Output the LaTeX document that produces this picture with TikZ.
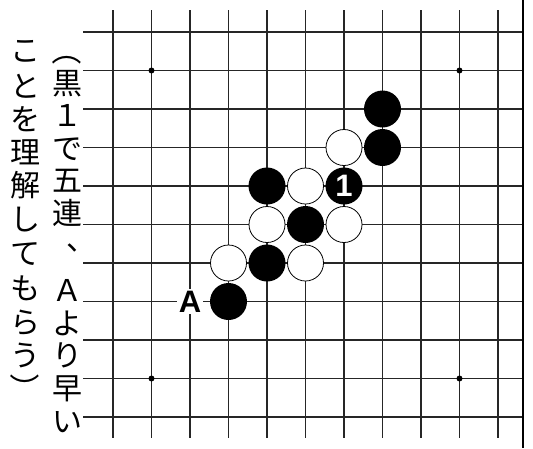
\documentclass[tikz,border=0pt]{standalone}
\usepackage{fontspec}
\newfontfamily\jpfont{Noto Sans CJK JP}
\newfontfamily\markfont{Liberation Sans}
\tikzset{
  gridline/.style={line width=1.3pt, black!85},
  blackstone/.style={circle, fill=black, minimum size=37pt, inner sep=0pt},
  whitestone/.style={circle, draw=black, line width=0.8pt, fill=white, minimum size=36pt, inner sep=0pt},
  starpoint/.style={circle, fill=black, minimum size=6pt, inner sep=0pt},
  vchar/.style={font=\jpfont\fontsize{30}{30}\selectfont, inner sep=0pt, text height=26.4pt, text depth=3.6pt},
  movelabel/.style={font=\markfont\bfseries\fontsize{31}{31}\selectfont, inner sep=0pt},
}

\begin{document}
\begin{tikzpicture}[x=1pt, y=-1pt]
  \useasboundingbox (0,0) rectangle (533,448);
  % board lines
  \foreach \i [evaluate=\i as \p using 113+38.5*\i] in {0,...,10} {
    \draw[gridline] (\p,10) -- (\p,438);
    \draw[gridline] (83,{32+38.5*\i}) -- (523,{32+38.5*\i});
  }
  \draw[line width=2.2pt] (523,0) -- (523,448);
  % star points
  \foreach \c/\r [count=\k] in {1/1,9/1,1/9,9/9}
    \node[starpoint] (star\k) at ({113+38.5*\c},{32+38.5*\r}) {};
  % stones
  \foreach \c/\r [count=\k] in {7/2,7/3,4/4,6/4,5/5,4/6,3/7}
    \node[blackstone] (b\k) at ({113+38.5*\c},{32+38.5*\r}) {};
  \foreach \c/\r [count=\k] in {6/3,5/4,4/5,6/5,3/6,5/6}
    \node[whitestone] (w\k) at ({113+38.5*\c},{32+38.5*\r}) {};
  \node[movelabel, text=white] (one) at (b4) {1};
  \node[movelabel, fill=white, inner sep=2pt] (pointA) at (190,301.5) {A};
  % vertical text, right column
  \node[vchar, rotate=-90] (rparen) at (67,50.5) {（};
  \foreach \y/\c [count=\k] in {83/黒,115.5/１,148/で,180.5/五,213/連,290/Ａ,322.75/よ,355.5/り,388/早,421/い}
    \node[vchar] (r\k) at (67,\y) {\c};
  \node[vchar] (comma) at (81,239) {、};
  % vertical text, left column
  \foreach \y/\c [count=\k] in {50/こ,86/と,119/を,152/理,185/解,219/し,253/て,288/も,322/ら,355/う}
    \node[vchar] (l\k) at (25,\y) {\c};
  \node[vchar, rotate=-90] (lparen) at (25,388) {）};
\end{tikzpicture}
\end{document}
